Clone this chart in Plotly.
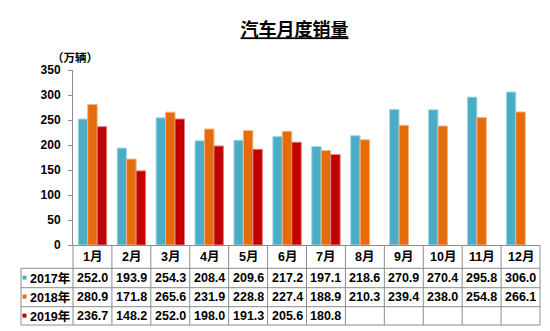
import plotly.graph_objects as go

months = ["1月", "2月", "3月", "4月", "5月", "6月", "7月", "8月", "9月", "10月", "11月", "12月"]
series_names = ["2017年", "2018年", "2019年"]
sales_2017 = [252.0, 193.9, 254.3, 208.4, 209.6, 217.2, 197.1, 218.6, 270.9, 270.4, 295.8, 306.0]
sales_2018 = [280.9, 171.8, 265.6, 231.9, 228.8, 227.4, 188.9, 210.3, 239.4, 238.0, 254.8, 266.1]
sales_2019 = [236.7, 148.2, 252.0, 198.0, 191.3, 205.6, 180.8, None, None, None, None, None]
y_ticks = [0, 50, 100, 150, 200, 250, 300, 350]

colors = ["#4BACC6", "#E46C0A", "#C00000"]
edge_colors = ["#A9D8E6", "#F4B384", "#E08080"]
series_values = [sales_2017, sales_2018, sales_2019]

W, H = 550, 331
ML, MR, MT, MB = 73, 10, 70, 86
PW = W - ML - MR
PH = H - MT - MB

FONT = "Liberation Sans, Arial, Noto Sans CJK SC"
CJK = "Noto Sans CJK SC, Liberation Sans"

fig = go.Figure()
for name, vals, c, ec in zip(series_names, series_values, colors, edge_colors):
    fig.add_trace(go.Bar(
        x=list(range(len(months))), y=vals, name=name,
        marker=dict(color=c, line=dict(color=ec, width=1)),
        showlegend=False,
    ))

def px_to_py(p):
    return (H - MB - p) / PH

def px_to_px(p):
    return (p - ML) / PW

n = len(months)
shapes = []
line_style = dict(color="#8C8C8C", width=1)
row_lines = [268.3, 287.7, 306.7, 325]
left_px = 21
for i, r in enumerate(row_lines):
    shapes.append(dict(type="line", xref="paper", yref="paper",
                       x0=px_to_px(left_px), x1=1, y0=px_to_py(r), y1=px_to_py(r),
                       line=line_style))
for i in range(n + 1):
    shapes.append(dict(type="line", xref="paper", yref="paper",
                       x0=i / n, x1=i / n, y0=0, y1=px_to_py(325),
                       line=line_style))
shapes.append(dict(type="line", xref="paper", yref="paper",
                   x0=px_to_px(left_px), x1=px_to_px(left_px),
                   y0=px_to_py(268.3), y1=px_to_py(325), line=line_style))

annotations = []
header_y = px_to_py(257)
row_y = [px_to_py(278), px_to_py(297), px_to_py(316)]
for i, m in enumerate(months):
    annotations.append(dict(x=i, xref="x", y=header_y, yref="paper", text="<b>" + m + "</b>",
                            showarrow=False, font=dict(family=FONT, size=12.5, color="#000"),
                            xanchor="center", yanchor="middle"))
for r, (name, vals, c) in enumerate(zip(series_names, series_values, colors)):
    annotations.append(dict(x=px_to_px(50), xref="paper", y=row_y[r], yref="paper",
                            text="<b>" + name + "</b>", showarrow=False,
                            font=dict(family=FONT, size=12.5, color="#000"),
                            xanchor="center", yanchor="middle"))
    cy = 277.6 + (row_y[0] - row_y[r]) * PH
    shapes.append(dict(type="rect", xref="paper", yref="paper",
                       x0=px_to_px(22.5), x1=px_to_px(26.5),
                       y0=px_to_py(cy + 2), y1=px_to_py(cy - 2),
                       fillcolor=c, line=dict(width=0)))
    for i, v in enumerate(vals):
        if v is None:
            continue
        annotations.append(dict(x=i, xref="x", y=row_y[r], yref="paper",
                                text="<b>%.1f</b>" % v, showarrow=False,
                                font=dict(family=FONT, size=12.5, color="#000"),
                                xanchor="center", yanchor="middle"))

annotations.append(dict(x=px_to_px(75), xref="paper", y=px_to_py(57), yref="paper",
                        text="<b>（万辆）</b>", showarrow=False,
                        font=dict(family=CJK, size=11.5, color="#000"),
                        xanchor="center", yanchor="middle"))

fig.update_layout(
    width=W, height=H,
    margin=dict(l=ML, r=MR, t=MT, b=MB),
    paper_bgcolor="white", plot_bgcolor="white",
    barmode="group", bargap=0.27, bargroupgap=0,
    title=dict(text="<b><u>汽车月度销量</u></b>", x=294.5 / W, xref="container", xanchor="center",
               y=1 - 30 / H, yref="container", yanchor="middle",
               font=dict(family=CJK, size=18, color="#000")),
    xaxis=dict(range=[-0.5, n - 0.5], showticklabels=False, ticks="", showgrid=False,
               zeroline=False, showline=True, linecolor="#8C8C8C", linewidth=1, fixedrange=True),
    yaxis=dict(range=[0, 350], tickvals=y_ticks, ticktext=["<b>%d</b>" % t for t in y_ticks],
               ticks="outside", ticklen=4, tickcolor="#8C8C8C", showgrid=False, zeroline=False,
               showline=True, linecolor="#8C8C8C", linewidth=1, ticklabelstandoff=5,
               tickfont=dict(family=FONT, size=12, color="#000")),
    shapes=shapes, annotations=annotations,
)

fig.write_html("out.html")
